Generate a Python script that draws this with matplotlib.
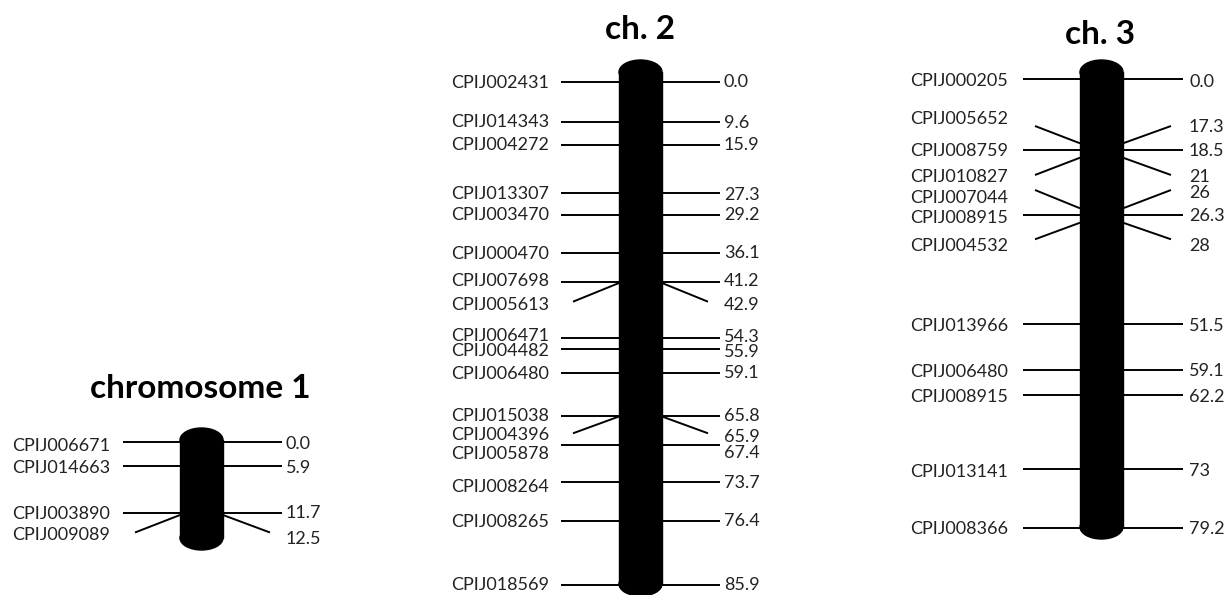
import matplotlib.pyplot as plt
from matplotlib.patches import Rectangle, Ellipse

plt.rcParams['font.family'] = ['Lato', 'DejaVu Sans']

# --- map data (rows are the drawn positions, top = 0) ---
# chromosome 1
ch1_names = ['CPIJ006671', 'CPIJ014663', 'CPIJ003890', 'CPIJ009089']
ch1_cm = ['0.0', '5.9', '11.7', '12.5']
ch1_row = [441.7, 465.7, 513.3, 515.0]        # where the tick meets the chromosome
ch1_tip = [441.7, 465.7, 513.3, 532.5]        # outer end of the tick
ch1_name_row = [445.3, 467.5, 513.3, 534.5]
ch1_cm_row = [443.3, 467.5, 513.0, 538.0]

# chromosome 2
ch2_names = ['CPIJ002431', 'CPIJ014343', 'CPIJ004272', 'CPIJ013307', 'CPIJ003470',
             'CPIJ000470', 'CPIJ007698', 'CPIJ005613', 'CPIJ006471', 'CPIJ004482',
             'CPIJ006480', 'CPIJ015038', 'CPIJ004396', 'CPIJ005878', 'CPIJ008264',
             'CPIJ008265', 'CPIJ018569']
ch2_cm = ['0.0', '9.6', '15.9', '27.3', '29.2', '36.1', '41.2', '42.9', '54.3', '55.9',
          '59.1', '65.8', '65.9', '67.4', '73.7', '76.4', '85.9']
ch2_row = [81.7, 121.7, 145.0, 193.3, 215.0, 253.3, 281.7, 283.0, 338.3, 349.3,
           372.7, 415.7, 416.5, 445.0, 481.7, 521.0, 585.0]
ch2_tip = [81.7, 121.7, 145.0, 193.3, 215.0, 253.3, 281.7, 301.7, 338.3, 349.3,
           372.7, 415.7, 433.3, 445.0, 481.7, 521.0, 585.0]
ch2_name_row = [82.2, 121.3, 144.5, 193.7, 215.0, 253.7, 281.0, 304.5, 335.5, 350.5,
                373.7, 415.3, 434.5, 453.7, 486.0, 521.7, 585.0]
ch2_cm_row = [81.7, 122.5, 145.0, 194.0, 215.0, 253.0, 281.0, 305.0, 337.0, 351.5,
              373.0, 415.7, 437.0, 452.5, 483.0, 521.0, 585.0]

# chromosome 3
ch3_names = ['CPIJ000205', 'CPIJ005652', 'CPIJ008759', 'CPIJ010827', 'CPIJ007044',
             'CPIJ008915', 'CPIJ004532', 'CPIJ013966', 'CPIJ006480', 'CPIJ008915',
             'CPIJ013141', 'CPIJ008366']
ch3_cm = ['0.0', '17.3', '18.5', '21', '26', '26.3', '28', '51.5', '59.1', '62.2',
          '73', '79.2']
ch3_row = [79.3, 143.3, 150.0, 157.7, 208.3, 215.0, 222.7, 324.3, 370.0, 395.0,
           469.3, 527.7]
ch3_tip = [79.3, 126.0, 150.0, 175.0, 190.0, 215.0, 239.3, 324.3, 370.0, 395.0,
           469.3, 527.7]
ch3_name_row = [80.0, 118.8, 151.0, 176.3, 197.2, 217.8, 245.5, 325.5, 371.2, 396.3,
                471.2, 528.8]
ch3_cm_row = [81.3, 127.0, 151.0, 177.0, 192.8, 215.5, 245.5, 325.5, 371.0, 396.0,
              470.0, 528.8]

# --- layout (pixels) ---
chroms = [
    dict(title='chromosome 1', title_xy=(200, 389), cx=201.5, top=428, bottom=550,
         names=ch1_names, cm=ch1_cm, row=ch1_row, tip=ch1_tip,
         name_row=ch1_name_row, cm_row=ch1_cm_row,
         left=123, right=282, name_x=110, cm_x=286),
    dict(title='ch. 2', title_xy=(640, 30), cx=640.5, top=60, bottom=596,
         names=ch2_names, cm=ch2_cm, row=ch2_row, tip=ch2_tip,
         name_row=ch2_name_row, cm_row=ch2_cm_row,
         left=561, right=720, name_x=549, cm_x=724),
    dict(title='ch. 3', title_xy=(1100, 35), cx=1101.5, top=60, bottom=539,
         names=ch3_names, cm=ch3_cm, row=ch3_row, tip=ch3_tip,
         name_row=ch3_name_row, cm_row=ch3_cm_row,
         left=1023, right=1183, name_x=1008, cm_x=1189),
]

width = 43
cap = 12
inset = 12
txt_color = '#222222'

fig = plt.figure(figsize=(12.28, 5.95), dpi=100)
ax = fig.add_axes([0, 0, 1, 1])
ax.set_xlim(0, 1228)
ax.set_ylim(595, 0)
ax.axis('off')

for c in chroms:
    cx = c['cx']
    x0 = cx - width / 2
    x1 = cx + width / 2
    # chromosome body
    ax.add_patch(Rectangle((x0, c['top'] + cap), width, c['bottom'] - c['top'] - 2 * cap,
                           color='black', zorder=3))
    ax.add_patch(Ellipse((cx, c['top'] + cap), width, 2 * cap, color='black', zorder=3))
    ax.add_patch(Ellipse((cx, c['bottom'] - cap), width, 2 * cap, color='black', zorder=3))

    # title, baseline placed under the visual centre
    ax.text(c['title_xy'][0], c['title_xy'][1] + 9, c['title'], ha='center', va='baseline',
            fontsize=24, fontweight='bold', color='black')

    for i in range(len(c['names'])):
        r = c['row'][i]
        t = c['tip'][i]
        if r == t:
            lx, rx = c['left'], c['right']
        else:
            lx, rx = c['left'] + inset, c['right'] - inset
        ax.plot([lx, x0], [t, r], color='black', lw=1.4, zorder=2, solid_capstyle='butt')
        ax.plot([x1, rx], [r, t], color='black', lw=1.4, zorder=2, solid_capstyle='butt')
        ax.text(c['name_x'], c['name_row'][i] + 5.5, c['names'][i], ha='right',
                va='baseline', fontsize=13, color=txt_color)
        ax.text(c['cm_x'], c['cm_row'][i] + 5.5, c['cm'][i], ha='left',
                va='baseline', fontsize=13, color=txt_color)

fig.savefig('out.png', dpi=100)
